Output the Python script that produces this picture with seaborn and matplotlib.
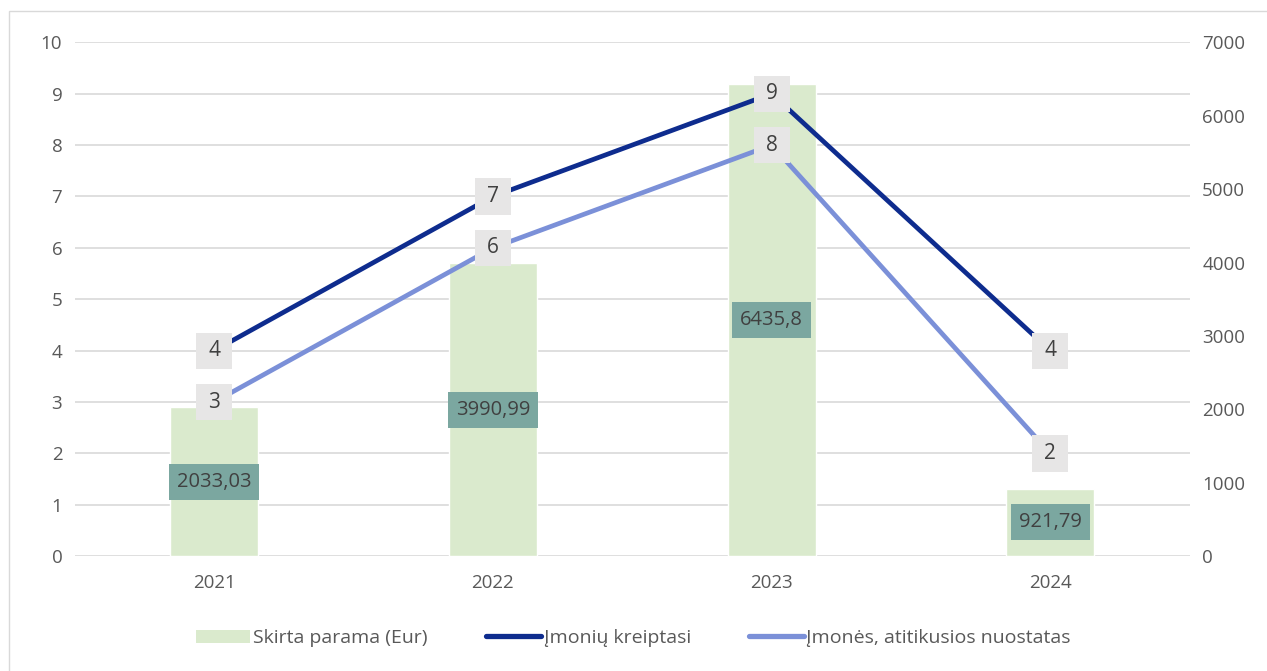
import matplotlib
matplotlib.use("Agg")
import matplotlib.pyplot as plt
import seaborn as sns
import pandas as pd
from matplotlib.patches import Patch, Rectangle
from matplotlib.lines import Line2D

years = ["2021", "2022", "2023", "2024"]
parama = [2033.03, 3990.99, 6435.8, 921.79]
parama_labels = ["2033,03", "3990,99", "6435,8", "921,79"]
kreiptasi = [4, 7, 9, 4]
atitikusios = [3, 6, 8, 2]
series_names = ["Skirta parama (Eur)", "Įmonių kreiptasi", "Įmonės, atitikusios nuostatas"]

sns.set_theme(style="white")
plt.rcParams["font.family"] = ["Open Sans", "DejaVu Sans"]

bar_color = "#DAEACD"
dark = "#0E2C8E"
light = "#7B90D8"
txt = "#595959"

fig = plt.figure(figsize=(12.67, 6.71), dpi=100)
ax = fig.add_axes([0.059, 0.171, 0.88, 0.766])
ax2 = ax.twinx()

df_bar = pd.DataFrame({"year": years, "value": parama})
sns.barplot(data=df_bar, x="year", y="value", ax=ax2, color=bar_color, width=0.315,
            saturation=1, zorder=2)
ax2.set_ylim(0, 7000)
ax2.set_yticks(range(0, 7001, 1000))
for t in range(0, 11):
    ax2.axhline(t * 700, color="#D9D9D9", lw=1.2, zorder=0)

df_l = pd.DataFrame({"x": list(range(4)) * 2,
                     "y": kreiptasi + atitikusios,
                     "s": [series_names[1]] * 4 + [series_names[2]] * 4})
sns.lineplot(data=df_l, x="x", y="y", hue="s", palette=[dark, light], ax=ax,
             linewidth=3.4, legend=False, zorder=3)
ax.set_ylim(0, 10)
ax.set_yticks(range(0, 11))
ax.set_xlim(-0.5, 3.5)
ax.set_xticks(range(4))
ax.set_xticklabels(years)

ax.set_zorder(ax2.get_zorder() + 1)
ax.patch.set_visible(False)

for i, (v, lab) in enumerate(zip(parama, parama_labels)):
    ax2.text(i, v / 2, lab, ha="center", va="center", fontsize=14.5, color="#404040",
             bbox=dict(boxstyle="square,pad=0.4", fc="#7BA7A0", ec="none"), zorder=5)

for series in (kreiptasi, atitikusios):
    ax.scatter(range(4), series, marker="s", s=26 ** 2, color="#E7E6E6",
               edgecolors="none", zorder=5)
    for i, v in enumerate(series):
        ax.text(i, v, str(v), ha="center", va="center", fontsize=15, color="#404040",
                zorder=6)

for a in (ax, ax2):
    a.set_xlabel("")
    a.set_ylabel("")
    for s in a.spines.values():
        s.set_visible(False)
    a.tick_params(axis="both", length=0, labelsize=13.5, labelcolor=txt, pad=9)
ax.tick_params(axis="x", pad=13)
ax.grid(False)
ax2.grid(False)

handles = [Patch(fc=bar_color, ec="none"),
           Line2D([], [], color=dark, lw=3.8, solid_capstyle="round"),
           Line2D([], [], color=light, lw=3.8, solid_capstyle="round")]
fig.legend(handles, series_names, loc="center", bbox_to_anchor=(0.5, 0.049), ncol=3,
           frameon=False, fontsize=14, labelcolor=txt, columnspacing=3.0,
           handlelength=2.8, handletextpad=0.15)

fig.patches.append(Rectangle((0.007, -0.01), 1.1, 0.993, transform=fig.transFigure,
                             fill=False, ec="#D9D9D9", lw=1))

fig.savefig("out.png", dpi=100)
